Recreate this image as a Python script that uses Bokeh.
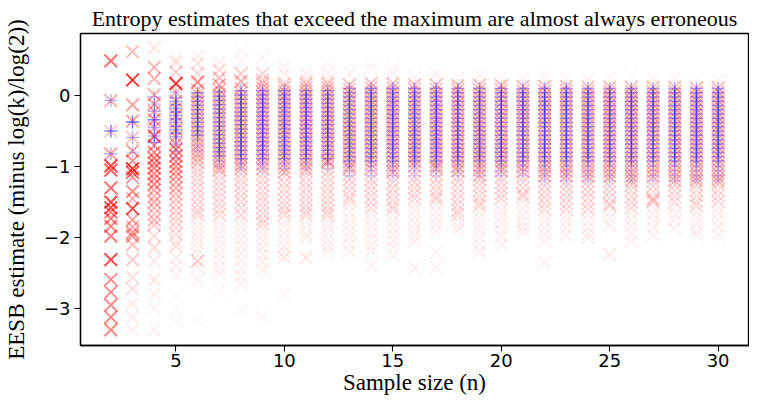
from bokeh.plotting import figure
from bokeh.models import ColumnDataSource, Range1d, FixedTicker, CustomJSTickFormatter
from bokeh.embed import file_html
from bokeh.resources import INLINE

TITLE = "Entropy estimates that exceed the maximum are almost always erroneous"
X_LABEL = "Sample size (n)"
Y_LABEL = "EESB estimate (minus log(k)/log(2))"
x_ticks = [5, 10, 15, 20, 25, 30]
y_ticks = [-3, -2, -1, 0]
sample_sizes = list(range(2, 31))

# ---- small n: discrete estimates, each with its own opacity
red_n2_y = [0.49, -0.07, -0.50, -0.82, -0.99, -1.05, -1.30, -1.50, -1.58, -1.64, -1.73, -1.84, -1.98, -2.31, -2.59, -2.77, -2.95, -3.12, -3.30]
red_n2_a = [0.55, 0.30, 0.20, 0.35, 0.70, 0.60, 0.55, 0.70, 0.70, 0.50, 0.50, 0.50, 0.50, 0.70, 0.45, 0.45, 0.45, 0.45, 0.45]
blue_n2_y = [-0.07, -0.50, -0.82]
blue_n2_a = [0.30, 0.50, 0.30]

red_n3_y = [0.62, 0.22, -0.13, -0.36, -0.59, -0.78, -0.92, -1.03, -1.08, -1.15, -1.35, -1.45, -1.59, -1.75, -1.85, -1.93, -1.98, -2.10, -2.31, -2.56, -2.72, -2.93, -3.12, -3.30]
red_n3_a = [0.25, 0.80, 0.35, 0.35, 0.25, 0.40, 0.40, 0.80, 0.60, 0.40, 0.45, 0.30, 0.70, 0.35, 0.30, 0.40, 0.40, 0.25, 0.20, 0.12, 0.12, 0.08, 0.08, 0.06]
blue_n3_y = [-0.37, -0.59, -0.80]
blue_n3_a = [0.55, 0.30, 0.20]

red_n4_y = [0.68, 0.40, 0.24, 0.01, -0.12, -0.22, -0.34, -0.45, -0.57, -0.70, -0.80, -0.88, -0.95, -1.02, -1.10, -1.17, -1.25, -1.33, -1.42, -1.50, -1.58, -1.67, -1.75, -1.82, -1.98, -2.14, -2.33, -2.59, -2.80, -3.00, -3.30]
red_n4_a = [0.10, 0.30, 0.30, 0.30, 0.35, 0.30, 0.40, 0.30, 0.60, 0.40, 0.45, 0.50, 0.45, 0.50, 0.45, 0.40, 0.45, 0.35, 0.25, 0.30, 0.25, 0.20, 0.25, 0.20, 0.15, 0.15, 0.10, 0.10, 0.06, 0.05, 0.05]
blue_n4_y = [-0.02, -0.12, -0.22, -0.34, -0.45, -0.57, -0.66]
blue_n4_a = [0.25, 0.20, 0.30, 0.50, 0.30, 0.30, 0.30]

red_n5_y = [0.52, 0.47, 0.33, 0.17, 0.05, -0.08, -0.18, -0.28, -0.38, -0.48, -0.58, -0.68, -0.76, -0.85, -0.93, -1.00, -1.07, -1.14, -1.22, -1.30, -1.38, -1.46, -1.54, -1.62, -1.70, -1.78, -1.86, -1.95, -2.05, -2.12, -2.28, -2.40, -2.52, -2.81, -3.00, -3.18]
red_n5_a = [0.06, 0.12, 0.20, 0.80, 0.25, 0.30, 0.25, 0.30, 0.25, 0.30, 0.30, 0.35, 0.45, 0.45, 0.40, 0.40, 0.35, 0.35, 0.30, 0.30, 0.22, 0.20, 0.18, 0.18, 0.15, 0.15, 0.12, 0.12, 0.10, 0.12, 0.07, 0.06, 0.05, 0.04, 0.04, 0.04]
blue_n5_y = [0.05, -0.03, -0.08, -0.13, -0.18, -0.23, -0.28, -0.33, -0.38, -0.43, -0.48, -0.53, -0.58, -0.68, -0.78, -0.88]
blue_n5_a = [0.20, 0.25, 0.30, 0.30, 0.35, 0.35, 0.35, 0.35, 0.35, 0.30, 0.30, 0.30, 0.30, 0.25, 0.20, 0.15]

small_red = {2: (red_n2_y, red_n2_a), 3: (red_n3_y, red_n3_a), 4: (red_n4_y, red_n4_a), 5: (red_n5_y, red_n5_a)}
small_blue = {2: (blue_n2_y, blue_n2_a), 3: (blue_n3_y, blue_n3_a), 4: (blue_n4_y, blue_n4_a), 5: (blue_n5_y, blue_n5_a)}

# ---- n >= 6: sparse markers (own opacity) + dense core / tail / faint groups
red_sparse_y = {
    6: [0.56, 0.45, 0.31, 0.19, -2.33, -2.60, -3.16], 7: [0.47, 0.36, 0.25, 0.15, -2.75],
    8: [0.63, 0.49, 0.31, 0.20, -3.02], 9: [0.54, 0.31, 0.22, -3.12],
    10: [0.40, 0.31, 0.17, -2.28, -2.79], 11: [0.31, 0.22, -2.28], 12: [0.45, 0.31, 0.22],
    13: [0.31], 14: [0.47, 0.38, -2.40], 15: [0.38, 0.31], 16: [0.26, -2.42],
    17: [0.31, -2.21, -2.42], 18: [0.25], 19: [0.29], 20: [0.25], 21: [0.25],
    22: [0.26, -2.35], 23: [0.25], 24: [0.24], 25: [0.25, -2.24], 26: [0.27],
    27: [0.25, -1.47], 28: [0.24], 29: [0.24], 30: [0.22],
}
red_sparse_a = {
    6: [0.05, 0.12, 0.15, 0.45, 0.20, 0.06, 0.04], 7: [0.06, 0.15, 0.25, 0.35, 0.04],
    8: [0.04, 0.05, 0.20, 0.30, 0.04], 9: [0.05, 0.15, 0.20, 0.04],
    10: [0.05, 0.06, 0.20, 0.10, 0.04], 11: [0.06, 0.10, 0.10], 12: [0.04, 0.06, 0.10],
    13: [0.05], 14: [0.03, 0.04, 0.05], 15: [0.04, 0.05], 16: [0.05, 0.06],
    17: [0.05, 0.05, 0.06], 18: [0.05], 19: [0.05], 20: [0.04], 21: [0.04],
    22: [0.04, 0.06], 23: [0.04], 24: [0.04], 25: [0.04, 0.08], 26: [0.04],
    27: [0.04, 0.20], 28: [0.04], 29: [0.04], 30: [0.04],
}

core_from_008 = [0.08, 0.02, -0.04, -0.10, -0.16, -0.22, -0.28, -0.34, -0.40, -0.46, -0.52, -0.58, -0.64, -0.70, -0.76, -0.82, -0.88, -0.94]
core_from_008b = [0.08, 0.02, -0.04, -0.10, -0.16, -0.22, -0.28, -0.34, -0.40, -0.46, -0.52, -0.58, -0.64, -0.70, -0.76, -0.82, -0.88, -0.94, -1.00, -1.05]
core_from_010 = [0.10, 0.04, -0.02, -0.08, -0.14, -0.20, -0.26, -0.32, -0.38, -0.44, -0.50, -0.56, -0.62, -0.68, -0.74, -0.80, -0.86, -0.92, -0.98, -1.03]
core_from_017 = [0.17, 0.11, 0.05, -0.01, -0.07, -0.13, -0.19, -0.25, -0.31, -0.37, -0.43, -0.49, -0.55, -0.61, -0.67, -0.73, -0.79, -0.85, -0.91, -0.97, -1.03]
core_from_017b = [0.17, 0.11, 0.05, -0.01, -0.07, -0.13, -0.19, -0.25, -0.31, -0.37, -0.43, -0.49, -0.55, -0.61, -0.67, -0.73, -0.79, -0.85, -0.91, -0.94]
core_from_017c = [0.17, 0.11, 0.05, -0.01, -0.07, -0.13, -0.19, -0.25, -0.31, -0.37, -0.43, -0.49, -0.55, -0.61, -0.67, -0.73, -0.79, -0.85, -0.91, -0.97, -1.03, -1.08]
core_from_012 = [0.12, 0.06, 0.00, -0.06, -0.12, -0.18, -0.24, -0.30, -0.36, -0.42, -0.48, -0.54, -0.60, -0.66, -0.72, -0.78, -0.84, -0.90, -0.96, -1.02, -1.08]
core_from_012b = [0.12, 0.06, 0.00, -0.06, -0.12, -0.18, -0.24, -0.30, -0.36, -0.42, -0.48, -0.54, -0.60, -0.66, -0.72, -0.78, -0.84, -0.90, -0.96, -1.02, -1.08, -1.14]
core_from_012c = [0.12, 0.06, 0.00, -0.06, -0.12, -0.18, -0.24, -0.30, -0.36, -0.42, -0.48, -0.54, -0.60, -0.66, -0.72, -0.78, -0.84, -0.90, -0.96, -1.02, -1.08, -1.14, -1.20]
core_from_015 = [0.15, 0.09, 0.03, -0.03, -0.09, -0.15, -0.21, -0.27, -0.33, -0.39, -0.45, -0.51, -0.57, -0.63, -0.69, -0.75, -0.81, -0.87, -0.93, -0.99, -1.03]
core_from_015b = [0.15, 0.09, 0.03, -0.03, -0.09, -0.15, -0.21, -0.27, -0.33, -0.39, -0.45, -0.51, -0.57, -0.63, -0.69, -0.75, -0.81, -0.87, -0.93, -0.99]
core_from_015c = [0.15, 0.09, 0.03, -0.03, -0.09, -0.15, -0.21, -0.27, -0.33, -0.39, -0.45, -0.51, -0.57, -0.63, -0.69, -0.75, -0.81, -0.87, -0.93, -0.99, -1.05, -1.12]
core_from_014 = [0.14, 0.08, 0.02, -0.04, -0.10, -0.16, -0.22, -0.28, -0.34, -0.40, -0.46, -0.52, -0.58, -0.64, -0.70, -0.76, -0.82, -0.88, -0.94, -1.00, -1.06]
core_from_013 = [0.13, 0.07, 0.01, -0.05, -0.11, -0.17, -0.23, -0.29, -0.35, -0.41, -0.47, -0.53, -0.59, -0.65, -0.71, -0.77, -0.83, -0.89, -0.95, -1.01, -1.07]
core_from_013b = [0.13, 0.07, 0.01, -0.05, -0.11, -0.17, -0.23, -0.29, -0.35, -0.41, -0.47, -0.53, -0.59, -0.65, -0.71, -0.77, -0.83, -0.89, -0.95, -1.01, -1.07, -1.13]
core_from_011 = [0.11, 0.05, -0.01, -0.07, -0.13, -0.19, -0.25, -0.31, -0.37, -0.43, -0.49, -0.55, -0.61, -0.67, -0.73, -0.79, -0.85, -0.91, -0.97, -1.03, -1.09, -1.15, -1.20]

red_core_y = {
    6: core_from_008, 7: core_from_008b, 8: core_from_010, 9: core_from_017, 10: core_from_012,
    11: core_from_017, 12: core_from_017b, 13: core_from_015, 14: core_from_017, 15: core_from_017c,
    16: core_from_015b, 17: core_from_015, 18: core_from_014, 19: core_from_015c, 20: core_from_014,
    21: core_from_013, 22: core_from_013b, 23: core_from_013b, 24: core_from_012b, 25: core_from_012b,
    26: core_from_012c, 27: core_from_012b, 28: core_from_012c, 29: core_from_011, 30: core_from_011,
}
red_tail_y = {
    6: [-1.01, -1.08, -1.15, -1.22, -1.30, -1.38, -1.46, -1.54, -1.62, -1.68],
    7: [-1.12, -1.20, -1.28, -1.36, -1.44, -1.52, -1.60, -1.68],
    8: [-1.10, -1.18, -1.26, -1.34, -1.42, -1.50, -1.58, -1.68],
    9: [-1.10, -1.18, -1.26, -1.34, -1.42, -1.50, -1.58, -1.66, -1.74, -1.80],
    10: [-1.15, -1.23, -1.31, -1.39, -1.47, -1.55, -1.62, -1.68],
    11: [-1.07, -1.15, -1.23, -1.31, -1.39, -1.47, -1.55, -1.62, -1.68],
    12: [-1.00, -1.07, -1.15, -1.23, -1.31, -1.39, -1.47, -1.55, -1.62, -1.68],
    13: [-1.10, -1.18, -1.26, -1.34, -1.42, -1.47],
    14: [-1.10, -1.18, -1.26, -1.34, -1.42, -1.50, -1.58],
    15: [-1.15, -1.23, -1.31, -1.39, -1.47, -1.55, -1.60],
    16: [-1.06, -1.14, -1.22, -1.30, -1.38, -1.45],
    17: [-1.10, -1.18, -1.26, -1.34, -1.42, -1.46],
    18: [-1.14, -1.22, -1.30, -1.38, -1.46, -1.54, -1.62, -1.68],
    19: [-1.18, -1.26, -1.34, -1.42, -1.50, -1.55],
    20: [-1.14, -1.22, -1.30, -1.38, -1.45],
    21: [-1.14, -1.22, -1.30, -1.38, -1.42],
    22: [-1.20, -1.28, -1.36, -1.44, -1.52, -1.60],
    23: [-1.20, -1.28, -1.36, -1.44, -1.52, -1.60],
    24: [-1.20, -1.28, -1.36, -1.44, -1.52, -1.60],
    25: [-1.20, -1.28, -1.36, -1.44, -1.52, -1.55],
    26: [-1.26, -1.34, -1.42, -1.50, -1.58],
    27: [-1.20, -1.28, -1.36, -1.44, -1.50],
    28: [-1.26, -1.34, -1.42, -1.50],
    29: [-1.25, -1.33, -1.41, -1.49, -1.55],
    30: [-1.25, -1.33, -1.41, -1.49],
}
red_faint_y = {
    6: [-1.76, -1.84, -1.92, -2.00, -2.08, -2.16, -2.24, -2.42],
    7: [-1.76, -1.85, -1.94, -2.03, -2.12, -2.22, -2.32, -2.42, -2.51],
    8: [-1.76, -1.85, -1.94, -2.03, -2.12, -2.22, -2.32, -2.44, -2.54, -2.65],
    9: [-1.88, -1.96, -2.05, -2.14, -2.24, -2.34, -2.45],
    10: [-1.76, -1.85, -1.94, -2.03, -2.12, -2.20],
    11: [-1.76, -1.85, -1.94, -2.00],
    12: [-1.76, -1.85, -1.94, -2.03, -2.12, -2.20],
    13: [-1.55, -1.64, -1.73, -1.82, -1.91, -2.00, -2.10, -2.19],
    14: [-1.66, -1.75, -1.84, -1.93, -2.02, -2.11, -2.19],
    15: [-1.68, -1.77, -1.86, -1.95, -2.04, -2.14, -2.24],
    16: [-1.53, -1.62, -1.71, -1.80, -1.89, -1.97, -2.05],
    17: [-1.54, -1.63, -1.72, -1.81, -1.90],
    18: [-1.76, -1.84, -1.90],
    19: [-1.63, -1.72, -1.81, -1.90, -2.00, -2.10, -2.19],
    20: [-1.53, -1.62, -1.71, -1.80, -1.89, -1.98, -2.10],
    21: [-1.50, -1.59, -1.68, -1.77, -1.85, -1.91],
    22: [-1.68, -1.77, -1.86, -1.95, -2.05],
    23: [-1.68, -1.77, -1.86, -1.96],
    24: [-1.68, -1.77, -1.86, -1.94, -2.00],
    25: [-1.63, -1.72, -1.82],
    26: [-1.66, -1.75, -1.84, -1.94, -2.05],
    27: [-1.58, -1.67, -1.76, -1.86, -1.96],
    28: [-1.58, -1.67, -1.76, -1.87],
    29: [-1.63, -1.72, -1.81, -1.90, -1.96],
    30: [-1.57, -1.66, -1.75, -1.85, -1.96],
}

blue_core_n6 = [0.04, -0.02, -0.08, -0.14, -0.20, -0.26, -0.32, -0.38, -0.44, -0.50, -0.56]
blue_core_n7 = [0.05, -0.01, -0.07, -0.13, -0.19, -0.25, -0.31, -0.37, -0.43, -0.49, -0.55, -0.61, -0.67, -0.73, -0.79, -0.85]
blue_core_mid = [0.07, 0.01, -0.05, -0.11, -0.17, -0.23, -0.29, -0.35, -0.41, -0.47, -0.53, -0.59, -0.65, -0.71, -0.77, -0.83, -0.89]
blue_core_high = [0.10, 0.04, -0.02, -0.08, -0.14, -0.20, -0.26, -0.32, -0.38, -0.44, -0.50, -0.56, -0.62, -0.68, -0.74, -0.80, -0.86, -0.92]
blue_edge_n6 = [-0.62, -0.70, -0.78]
blue_edge_n7 = [-0.92, -1.00]
blue_edge_mid = [-0.96, -1.03]
blue_edge_high = [-0.99, -1.06, -1.13]
blue_edge_long = [-0.99, -1.06, -1.13, -1.20]
blue_core_y = {6: blue_core_n6, 7: blue_core_n7, 8: blue_core_mid, 9: blue_core_mid, 10: blue_core_mid,
               11: blue_core_mid, 12: blue_core_mid, 13: blue_core_high, 14: blue_core_high, 15: blue_core_high,
               16: blue_core_high, 17: blue_core_high, 18: blue_core_high, 19: blue_core_high, 20: blue_core_high,
               21: blue_core_high, 22: blue_core_high, 23: blue_core_high, 24: blue_core_high, 25: blue_core_high,
               26: blue_core_high, 27: blue_core_high, 28: blue_core_high, 29: blue_core_high, 30: blue_core_high}
blue_edge_y = {6: blue_edge_n6, 7: blue_edge_n7, 8: blue_edge_mid, 9: blue_edge_mid, 10: blue_edge_mid,
               11: blue_edge_mid, 12: blue_edge_mid, 13: blue_edge_high, 14: blue_edge_high, 15: blue_edge_high,
               16: blue_edge_high, 17: blue_edge_high, 18: blue_edge_high, 19: blue_edge_high, 20: blue_edge_high,
               21: blue_edge_high, 22: blue_edge_long, 23: blue_edge_long, 24: blue_edge_long, 25: blue_edge_long,
               26: blue_edge_long, 27: blue_edge_long, 28: blue_edge_long, 29: blue_edge_long, 30: blue_edge_long}

RED_CORE_ALPHA = 0.24
RED_TAIL_ALPHA = 0.13
RED_FAINT_ALPHA = 0.06
BLUE_CORE_ALPHA = 0.33
BLUE_EDGE_ALPHA = 0.12

# ---- assemble
red = dict(x=[], y=[], a=[])
blue = dict(x=[], y=[], a=[])

def put(store, n, ys, alphas):
    for yv, av in zip(ys, alphas):
        store["x"].append(n)
        store["y"].append(yv)
        store["a"].append(av)

for n in sample_sizes:
    if n in small_red:
        put(red, n, *small_red[n])
        put(blue, n, *small_blue[n])
    else:
        put(red, n, red_faint_y[n], [RED_FAINT_ALPHA] * len(red_faint_y[n]))
        put(red, n, red_tail_y[n], [RED_TAIL_ALPHA] * len(red_tail_y[n]))
        put(red, n, red_core_y[n], [RED_CORE_ALPHA] * len(red_core_y[n]))
        put(red, n, red_sparse_y[n], red_sparse_a[n])
        put(blue, n, blue_edge_y[n], [BLUE_EDGE_ALPHA] * len(blue_edge_y[n]))
        put(blue, n, blue_core_y[n], [BLUE_CORE_ALPHA] * len(blue_core_y[n]))

p = figure(width=749, height=397, output_backend="svg", toolbar_location=None,
           x_range=Range1d(0.6, 31.4), y_range=Range1d(-3.52, 0.875),
           min_border_left=76, min_border_right=1, min_border_top=0, min_border_bottom=40)

p.scatter("x", "y", source=ColumnDataSource(red), marker="x", size=18,
          line_color="red", line_alpha="a", line_width=2.0)
p.scatter("x", "y", source=ColumnDataSource(blue), marker="cross", size=13,
          line_color="blue", line_alpha="a", line_width=1.5)

p.title.text = TITLE
p.title.align = "center"
p.title.text_font = "Liberation Serif"
p.title.text_font_size = "22px"
p.title.text_font_style = "normal"
p.title.text_color = "black"
p.title.standoff = 6

p.grid.visible = False
p.outline_line_color = "black"
p.outline_line_width = 1.3
p.outline_line_alpha = 1.0
p.background_fill_color = "white"
p.border_fill_color = "white"

p.xaxis.ticker = FixedTicker(ticks=x_ticks)
p.yaxis.ticker = FixedTicker(ticks=y_ticks)
minus_fmt = CustomJSTickFormatter(code="return String(tick).replace('-', '\u2212');")
p.yaxis.formatter = minus_fmt
p.xaxis.axis_label = X_LABEL
p.yaxis.axis_label = Y_LABEL
for ax in (p.xaxis, p.yaxis):
    ax.axis_line_color = "black"
    ax.axis_line_width = 1.3
    ax.major_tick_line_color = "black"
    ax.major_tick_line_width = 1.1
    ax.major_tick_out = 6
    ax.major_tick_in = 0
    ax.minor_tick_out = 0
    ax.minor_tick_in = 0
    ax.major_label_text_font = "DejaVu Sans"
    ax.major_label_text_font_size = "18px"
    ax.major_label_text_color = "black"
    ax.axis_label_text_font = "Liberation Serif"
    ax.axis_label_text_font_size = "23px"
    ax.axis_label_text_font_style = "normal"
    ax.axis_label_text_color = "black"
p.xaxis.major_label_standoff = 2
p.xaxis.axis_label_standoff = 0
p.yaxis.major_label_standoff = 4
p.yaxis.axis_label_standoff = 12

open("out.html", "w").write(file_html(p, INLINE))
